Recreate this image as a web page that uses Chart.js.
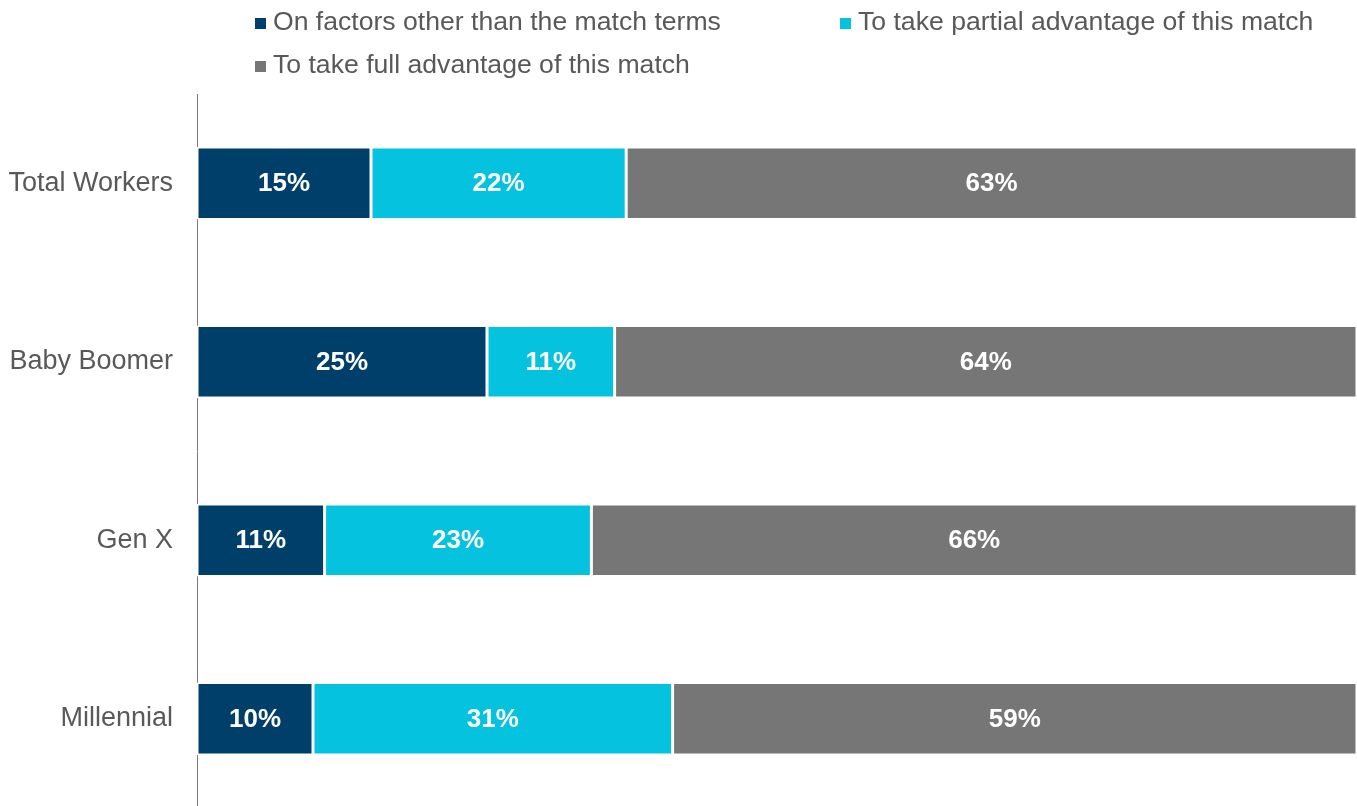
<!DOCTYPE html>
<html>
<head>
<meta charset="utf-8">
<script src="https://cdn.jsdelivr.net/npm/chart.js@4"></script>
<style>
    html, body { margin: 0; padding: 0; background: #fff; overflow: hidden; }
    #wrap { position: relative; width: 1357px; height: 808px; }
    #legend {
        position: absolute; left: 255px; top: 0;
        display: grid; grid-template-columns: 585px auto; grid-auto-rows: 43px;
        font-family: 'Liberation Sans', Arial, sans-serif; font-size: 26.6px; color: #595959;
    }
    #legend .item { display: flex; align-items: center; white-space: nowrap; }
    #legend .box { width: 11px; height: 11px; margin-right: 7px; margin-top: 3px; }
</style>
</head>
<body>
<div id="wrap">
    <canvas id="__chart_match" width="1357" height="808"></canvas>
    <div id="legend"></div>
</div>
<script>

const categories = [ 'Total Workers', 'Baby Boomer', 'Gen X', 'Millennial' ];
const otherFactors = [ 15, 25, 11, 10 ];
const partialMatch = [ 22, 11, 23, 31 ];
const fullMatch = [ 63, 64, 66, 59 ];

const seriesNames = [
    'On factors other than the match terms',
    'To take partial advantage of this match',
    'To take full advantage of this match'
];
const seriesColors = [ '#003f6a', '#05c3de', '#767676' ];

document.addEventListener( 'DOMContentLoaded', function () {

    /**
     * white value labels in the middle of each segment
     */

    const barLabels = {
        id: 'barLabels',
        afterDatasetsDraw( chart ) {
            const ctx = chart.ctx;
            ctx.save();
            ctx.fillStyle = '#ffffff';
            ctx.font = 'bold 26px "Liberation Sans", Arial, sans-serif';
            ctx.textAlign = 'center';
            ctx.textBaseline = 'middle';
            chart.data.datasets.forEach( ( ds, i ) => {
                chart.getDatasetMeta( i ).data.forEach( ( bar, j ) => {
                    const p = bar.getCenterPoint();
                    ctx.fillText( ds.data[ j ] + '%', p.x, p.y + 1 );
                } );
            } );
            ctx.restore();
        }
    };

    const datasets = [ otherFactors, partialMatch, fullMatch ].map( ( values, i ) => ( {
        label: seriesNames[ i ],
        data: values,
        backgroundColor: seriesColors[ i ],
        borderColor: '#ffffff',
        borderWidth: 1.5,
        borderSkipped: false,
        categoryPercentage: 1,
        barPercentage: 0.405
    } ) );

    const chart = new Chart( document.getElementById( '__chart_match' ).getContext( '2d' ), {
        type: 'bar',
        data: {
            labels: categories,
            datasets: datasets
        },
        options: {
            indexAxis: 'y',
            responsive: false,
            animation: false,
            layout: {
                padding: { top: 94, left: 0, right: 0, bottom: 0 }
            },
            plugins: {
                legend: { display: false },
                tooltip: { enabled: false }
            },
            scales: {
                x: {
                    stacked: true,
                    min: 0,
                    max: 100,
                    display: false
                },
                y: {
                    stacked: true,
                    border: {
                        display: true,
                        color: '#7a7a7a',
                        width: 1
                    },
                    grid: {
                        display: false,
                        drawTicks: false
                    },
                    ticks: {
                        padding: 24,
                        color: '#595959',
                        font: {
                            family: '"Liberation Sans", Arial, sans-serif',
                            size: 27
                        }
                    },
                    afterFit: ( scale ) => {
                        scale.width = 197;
                        scale.paddingTop = 0;
                        scale.paddingBottom = 0;
                    }
                }
            }
        },
        plugins: [ barLabels ]
    } );

    /**
     * html legend built from the datasets
     */

    const legend = document.getElementById( 'legend' );

    chart.data.datasets.forEach( ( ds ) => {
        const item = document.createElement( 'div' );
        item.className = 'item';
        const box = document.createElement( 'span' );
        box.className = 'box';
        box.style.background = ds.backgroundColor;
        const text = document.createElement( 'span' );
        text.textContent = ds.label;
        item.appendChild( box );
        item.appendChild( text );
        legend.appendChild( item );
    } );

} );
</script>
</body>
</html>
